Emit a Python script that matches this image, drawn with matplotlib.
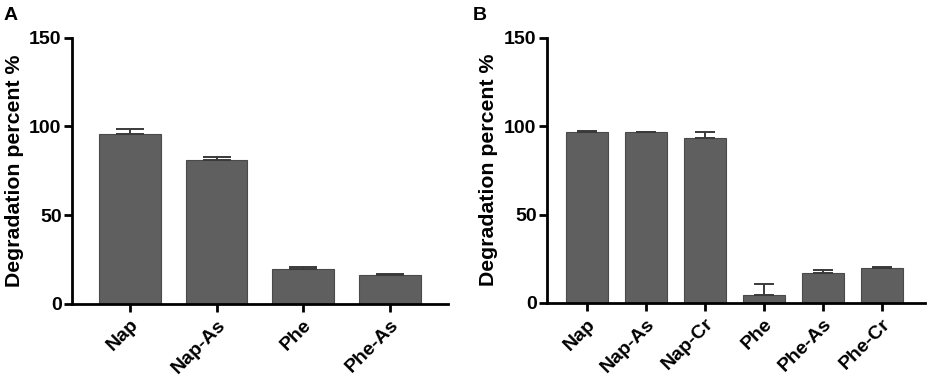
import matplotlib
matplotlib.use("Agg")
import matplotlib.pyplot as plt
import numpy as np

plt.rcParams['font.family'] = ['Liberation Sans', 'DejaVu Sans']
plt.rcParams['font.weight'] = 'bold'

cats_a = ["Nap", "Nap-As", "Phe", "Phe-As"]
vals_a = [95.9, 80.9, 19.4, 16.0]
errs_a = [2.4, 1.8, 1.5, 0.6]

cats_b = ["Nap", "Nap-As", "Nap-Cr", "Phe", "Phe-As", "Phe-Cr"]
vals_b = [96.8, 96.5, 93.4, 4.4, 17.1, 20.0]
errs_b = [0.5, 0.3, 3.1, 6.2, 1.6, 0.4]

yticks = [0, 50, 100, 150]

fig = plt.figure(figsize=(9.35, 3.84), dpi=100)
ax_a = fig.add_axes([0.077, 0.209, 0.402, 0.693])
ax_b = fig.add_axes([0.585, 0.211, 0.404, 0.691])

bar_color = "#5f5f5f"
edge_color = "#4a4a4a"

def draw(ax, cats, vals, errs, xmin, xmax, capsize, label_x):
    x = np.arange(len(cats))
    ax.bar(x, vals, width=0.71, color=bar_color, edgecolor=edge_color, linewidth=0.8, zorder=2)
    ax.errorbar(x, vals, yerr=[np.zeros(len(errs)), errs], fmt='none', ecolor="#3a3a3a",
                elinewidth=1.4, capsize=capsize, capthick=1.4, zorder=3)
    ax.set_xlim(xmin, xmax)
    ax.set_ylim(0, 150)
    ax.set_yticks(yticks)
    ax.set_xticks(x)
    ax.set_xticklabels(cats, rotation=45, ha='right', rotation_mode='anchor', fontsize=14, fontweight='bold')
    ax.set_yticklabels([str(t) for t in yticks], fontsize=14, fontweight='bold')
    ax.set_ylabel("Degradation percent %", fontsize=15.3, fontweight='bold')
    ax.yaxis.set_label_coords(label_x, 0.5)
    for s in ['top', 'right']:
        ax.spines[s].set_visible(False)
    for s in ['left', 'bottom']:
        ax.spines[s].set_linewidth(2.0)
        ax.spines[s].set_color('black')
    ax.tick_params(axis='both', width=2.0, length=6, direction='out')
    ax.tick_params(axis='y', pad=1.5)
    ax.tick_params(axis='x', pad=3)
    ax.spines['left'].set_bounds(0, 150)

draw(ax_a, cats_a, vals_a, errs_a, -0.67, 3.67, 10, -0.127)
draw(ax_b, cats_b, vals_b, errs_b, -0.68, 5.73, 7, -0.130)

fig.text(0.004, 0.948, "A", fontsize=14, fontweight='bold')
fig.text(0.506, 0.948, "B", fontsize=14, fontweight='bold')

fig.savefig("out.png", dpi=100)
